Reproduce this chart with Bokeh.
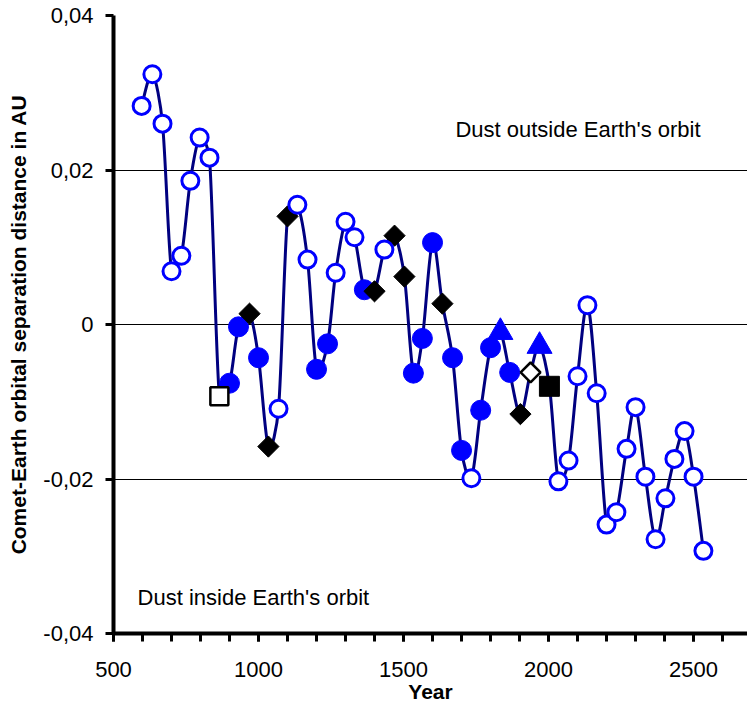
import numpy as np
from bokeh.plotting import figure
from bokeh.models import (Range1d, FixedTicker, CustomJSTickFormatter, Label,
                          ColumnDataSource)
from bokeh.embed import file_html
from bokeh.resources import INLINE

# ---- data ----
years = [597, 634, 669, 700, 734, 765, 797, 831, 865, 900, 931, 969, 1000, 1034,
         1069, 1100, 1134, 1169, 1200, 1238, 1266, 1300, 1331, 1365, 1400, 1434,
         1469, 1503, 1534, 1565, 1600, 1634, 1669, 1700, 1734, 1766, 1800, 1834,
         1866, 1903, 1938, 1969, 2003, 2034, 2069, 2100, 2134, 2166, 2200, 2234,
         2269, 2300, 2334, 2369, 2403, 2434, 2469, 2500, 2534]
separation = [0.0283, 0.0324, 0.0260, 0.0069, 0.0089, 0.0186, 0.0242, 0.0216,
              -0.0093, -0.0076, -0.0003, 0.0014, -0.0043, -0.0158, -0.0109,
              0.0140, 0.0155, 0.0084, -0.0058, -0.0025, 0.0067, 0.0133, 0.0113,
              0.0045, 0.0043, 0.0097, 0.0115, 0.0062, -0.0063, -0.0018, 0.0106,
              0.0027, -0.0043, -0.0163, -0.0199, -0.0111, -0.0030, -0.0010,
              -0.0062, -0.0116, -0.0062, -0.0028, -0.0080, -0.0203, -0.0176,
              -0.0067, 0.0025, -0.0089, -0.0259, -0.0243, -0.0161, -0.0107,
              -0.0197, -0.0278, -0.0225, -0.0174, -0.0138, -0.0197, -0.0293]
# marker kind per point
kind = (["oc"] * 8 + ["osq", "fc", "fc", "dm", "fc", "dm", "oc", "dm", "oc", "oc",
        "fc", "fc", "oc", "oc", "oc", "fc", "dm", "oc", "dm", "dm", "fc", "fc", "fc",
        "dm", "fc", "fc", "oc", "fc", "fc", "tri", "fc", "dm", "odm", "tri", "fsq"]
        + ["oc"] * 16)

x_ticks = [500, 1000, 1500, 2000, 2500]
x_minor = [y for y in range(500, 2700, 100)]
y_ticks = [-0.04, -0.02, 0, 0.02, 0.04]
grid_ticks = [-0.02, 0, 0.02]

FONT = "Liberation Sans"
BLUE = "#0000FF"
NAVY = "#000080"

X0, X1 = 500, 2686
Y0, Y1 = -0.04, 0.04
FW, FH = 634, 618  # approx frame size in px, only used for curve smoothing

p = figure(width=747, height=706, x_range=Range1d(X0, X1),
           y_range=Range1d(Y0, Y1), output_backend="svg",
           toolbar_location=None, min_border_left=113, min_border_right=0,
           min_border_top=15, min_border_bottom=73)
p.outline_line_color = None
p.background_fill_color = "white"
p.border_fill_color = "white"

# smoothed line through the data points: Catmull-Rom handles, clamped so a
# handle is never longer than a fraction of its own segment
sx = FW / (X1 - X0)
sy = FH / (Y1 - Y0)
PX = np.array(years, dtype=float) * sx
PY = np.array(separation, dtype=float) * sy
n = len(PX)
HX = np.zeros(n)
HY = np.zeros(n)
for i in range(n):
    a = max(i - 1, 0)
    b = min(i + 1, n - 1)
    HX[i] = (PX[b] - PX[a]) / 6.0
    HY[i] = (PY[b] - PY[a]) / 6.0
seg = np.hypot(np.diff(PX), np.diff(PY))

def clamp(hx, hy, limit):
    L = np.hypot(hx, hy)
    f = np.where(L > limit, limit / np.maximum(L, 1e-9), 1.0)
    return hx * f, hy * f

k = 0.4
h0x, h0y = clamp(HX[:-1], HY[:-1], k * seg)
h1x, h1y = clamp(HX[1:], HY[1:], k * seg)
c0x, c0y = PX[:-1] + h0x, PY[:-1] + h0y
c1x, c1y = PX[1:] - h1x, PY[1:] - h1y
p.bezier(x0=PX[:-1] / sx, y0=PY[:-1] / sy, x1=PX[1:] / sx, y1=PY[1:] / sy,
         cx0=c0x / sx, cy0=c0y / sy, cx1=c1x / sx, cy1=c1y / sy,
         line_color=NAVY, line_width=3)

def sub(kk_):
    idx = [i for i, kk in enumerate(kind) if kk == kk_]
    return ColumnDataSource(dict(x=[years[i] for i in idx],
                                 y=[separation[i] for i in idx]))

p.scatter("x", "y", source=sub("fc"), marker="circle", size=20,
          fill_color=BLUE, line_color=BLUE, line_width=1)
p.scatter("x", "y", source=sub("dm"), marker="square", angle=np.pi / 4, size=15,
          fill_color="black", line_color="black", line_width=1)
p.scatter("x", "y", source=sub("oc"), marker="circle", size=17,
          fill_color="white", line_color=BLUE, line_width=3)
p.scatter("x", "y", source=sub("odm"), marker="square", angle=np.pi / 4, size=14,
          fill_color="white", line_color="black", line_width=2.5)
p.scatter("x", "y", source=sub("osq"), marker="square", size=18,
          fill_color="white", line_color="black", line_width=2.5)
p.scatter("x", "y", source=sub("fsq"), marker="square", size=20,
          fill_color="black", line_color="black", line_width=1)
p.scatter("x", "y", source=sub("tri"), marker="triangle", size=25,
          fill_color=BLUE, line_color=BLUE, line_width=1)

# axes
p.xgrid.visible = False
p.ygrid.ticker = FixedTicker(ticks=grid_ticks)
p.ygrid.grid_line_color = "black"
p.ygrid.grid_line_width = 1

p.xaxis.ticker = FixedTicker(ticks=x_ticks, minor_ticks=x_minor)
p.yaxis.ticker = FixedTicker(ticks=y_ticks)
p.yaxis.formatter = CustomJSTickFormatter(code="""
    const v = Math.round(tick * 100) / 100;
    if (v === 0) { return '0'; }
    return v.toFixed(2).replace('.', ',');
""")
for ax in (p.xaxis[0], p.yaxis[0]):
    ax.axis_line_color = "black"
    ax.axis_line_width = 4
    ax.major_tick_line_color = "black"
    ax.major_tick_line_width = 3
    ax.major_tick_out = 8
    ax.major_tick_in = 0
    ax.minor_tick_line_color = "black"
    ax.minor_tick_line_width = 3
    ax.minor_tick_out = 8
    ax.minor_tick_in = 0
    ax.major_label_text_font = FONT
    ax.major_label_text_font_size = "22px"
    ax.major_label_text_color = "black"
    ax.axis_label_text_font = FONT
    ax.axis_label_text_font_size = "21px"
    ax.axis_label_text_font_style = "bold"
    ax.axis_label_text_color = "black"

p.xaxis.axis_label = "Year"
p.xaxis.major_label_standoff = 20
p.xaxis.axis_label_standoff = 0
p.yaxis.axis_label = "Comet-Earth orbital separation distance in AU"
p.yaxis.major_label_standoff = 12
p.yaxis.axis_label_standoff = 10

p.add_layout(Label(x=1679, y=0.0252, text="Dust outside Earth's orbit",
                   text_font=FONT, text_font_size="22px", text_color="black",
                   text_baseline="middle", text_align="left"))
p.add_layout(Label(x=583, y=-0.0353, text="Dust inside Earth's orbit",
                   text_font=FONT, text_font_size="22px", text_color="black",
                   text_baseline="middle", text_align="left"))

open("out.html", "w").write(file_html(p, INLINE))
